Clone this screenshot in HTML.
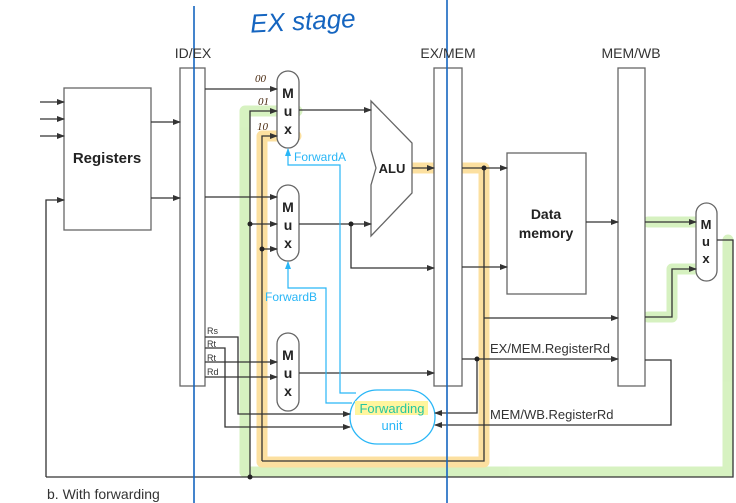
<!DOCTYPE html>
<html><head><style>
body{margin:0;background:#fff;}
svg{display:block;font-family:"Liberation Sans",sans-serif;}
</style></head><body>
<svg width="736" height="503" viewBox="0 0 736 503">
<defs>
<marker id="a" markerWidth="8" markerHeight="8" refX="7" refY="4" orient="auto" markerUnits="userSpaceOnUse"><path d="M0,1 L8,4 L0,7 z" fill="#333"/></marker>
<marker id="b" markerWidth="8" markerHeight="8" refX="7" refY="4" orient="auto" markerUnits="userSpaceOnUse"><path d="M0,1 L8,4 L0,7 z" fill="#29b6f6"/></marker>
</defs>
<g fill="none" stroke-linejoin="round" stroke-linecap="round" opacity="0.7">
<path d="M728,240 V472 H245 V111 H297" stroke="#c6eca6" stroke-width="11"/>
<path d="M648,222 H700 M648,317 H672 V269 H697" stroke="#c6eca6" stroke-width="11"/>
<path d="M412,168 H484 V462 H262 V136 H296" stroke="#fcd478" stroke-width="11"/>
</g>
<g stroke="#666" stroke-width="1.3" fill="#fff">
<rect x="64" y="88" width="87" height="142"/>
<rect x="180" y="68" width="25" height="318"/>
<rect x="434" y="68" width="28" height="318"/>
<rect x="618" y="68" width="27" height="318"/>
<rect x="507" y="153" width="79" height="141"/>
<rect x="277" y="71" width="22" height="77" rx="11"/>
<rect x="277" y="185" width="22" height="76" rx="11"/>
<rect x="277" y="333" width="22" height="78" rx="11"/>
<rect x="696" y="203" width="21" height="78" rx="10.5"/>
<path d="M371,101 L412,143 L412,193 L371,236 L371,185 L376,168 L371,150 Z"/>
</g>
<rect x="350" y="390" width="85" height="54" rx="27" fill="#fff" stroke="#29b6f6" stroke-width="1.3"/>
<g stroke="#333" stroke-width="1.3" fill="none" marker-end="url(#a)">
<path d="M40,102 H64"/><path d="M40,119 H64"/><path d="M40,136 H64"/>
<path d="M151,122 H180"/><path d="M151,198 H180"/>
<path d="M46,477 V200 H64"/>
<path d="M205,89 H277"/><path d="M205,197 H277"/>
<path d="M250,477 V111 H277"/>
<path d="M250,224 H277"/>
<path d="M262,461 V136 H277"/>
<path d="M262,249 H277"/>
<path d="M299,110 H371"/><path d="M299,224 H371"/>
<path d="M351,224 V268 H434"/>
<path d="M412,168 H434"/>
<path d="M462,168 H507"/>
<path d="M462,267 H507"/>
<path d="M484,318 H618"/>
<path d="M586,222 H618"/>
<path d="M645,222 H696"/>
<path d="M645,317 H672 V269 H696"/>
<path d="M205,337 H238 V414 H350"/>
<path d="M205,348 H225 V427 H350"/>
<path d="M205,362 H277"/><path d="M205,377 H277"/>
<path d="M299,373 H434"/>
<path d="M462,359 H618"/>
<path d="M477,359 V413 H435"/>
<path d="M645,360 H671 V425 H435"/>
</g>
<g stroke="#333" stroke-width="1.3" fill="none">
<path d="M46,477 H733 V240 H717"/>
<path d="M484,168 V461 H262"/>
</g>
<g fill="#222">
<circle cx="250" cy="224" r="2.5"/><circle cx="262" cy="249" r="2.5"/><circle cx="351" cy="224" r="2.5"/>
<circle cx="484" cy="168" r="2.5"/><circle cx="477" cy="359" r="2.5"/><circle cx="250" cy="477" r="2.5"/>
</g>
<g stroke="#29b6f6" stroke-width="1.2" fill="none">
<path d="M356,393 H340 V165 H288 V149" marker-end="url(#b)"/>
<path d="M352,403 H326 V288 H288 V262" marker-end="url(#b)"/>
</g>
<g stroke="#1565c0" stroke-width="1.6"><line x1="194" y1="6" x2="194" y2="503"/><line x1="447" y1="0" x2="447" y2="503"/></g>
<g fill="#333" font-size="14">
<text x="193" y="58" text-anchor="middle">ID/EX</text>
<text x="448" y="58" text-anchor="middle">EX/MEM</text>
<text x="631" y="58" text-anchor="middle">MEM/WB</text>
<text x="490" y="353" font-size="13">EX/MEM.RegisterRd</text>
<text x="490" y="419" font-size="13">MEM/WB.RegisterRd</text>
<text x="47" y="499">b. With forwarding</text>
</g>
<g fill="#333" font-size="9"><text x="207" y="334">Rs</text><text x="207" y="347">Rt</text><text x="207" y="361">Rt</text><text x="207" y="375">Rd</text></g>
<g fill="#222" font-weight="bold" font-size="14" text-anchor="middle">
<text x="107" y="163" font-size="15">Registers</text>
<text x="392" y="173" font-size="13">ALU</text>
<text x="546" y="219">Data</text><text x="546" y="238">memory</text>
<text x="288" y="98">M</text><text x="288" y="116">u</text><text x="288" y="134">x</text>
<text x="288" y="212">M</text><text x="288" y="230">u</text><text x="288" y="248">x</text>
<text x="288" y="360">M</text><text x="288" y="378">u</text><text x="288" y="396">x</text>
<text x="706" y="229" font-size="13">M</text><text x="706" y="246" font-size="13">u</text><text x="706" y="263" font-size="13">x</text>
</g>
<g fill="#29b6f6" font-size="12"><text x="294" y="161">ForwardA</text><text x="265" y="301">ForwardB</text></g>
<rect x="355" y="401" width="73" height="14" fill="#fff59d"/>
<text x="392" y="413" font-size="13" fill="#26c6a0" text-anchor="middle">Forwarding</text>
<text x="392" y="430" font-size="13" fill="#29b6f6" text-anchor="middle">unit</text>
<g fill="#4a2a10" font-style="italic" font-size="11" font-family="Liberation Serif,serif"><text x="255" y="82">00</text><text x="258" y="105">01</text><text x="257" y="130">10</text></g>
<text x="250" y="30" font-size="26" fill="#1565c0" font-family="Liberation Sans,sans-serif" font-style="italic" transform="rotate(-3 300 20)">EX stage</text>
</svg>
</body></html>
